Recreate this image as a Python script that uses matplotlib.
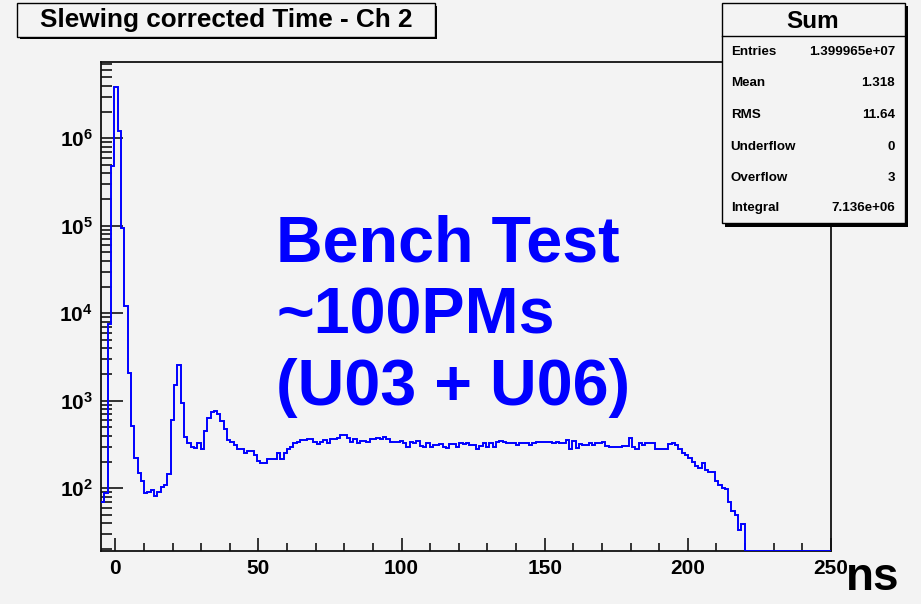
import numpy as np
import matplotlib
matplotlib.use('Agg')
import matplotlib.pyplot as plt
from matplotlib.patches import Rectangle
from matplotlib.ticker import LogLocator, MultipleLocator, NullFormatter

plt.rcParams['font.family'] = ['Liberation Sans', 'DejaVu Sans']
plt.rcParams['font.weight'] = 'bold'
plt.rcParams['mathtext.fontset'] = 'custom'
plt.rcParams['mathtext.bf'] = 'Liberation Sans:bold'
plt.rcParams['mathtext.rm'] = 'Liberation Sans:bold'

# histogram: 220 bins between -5 and 250 ns (counts)
x_lo, x_hi = -5, 250
counts = [
    70, 88, 7600, 480000, 3850000, 1200000, 95000, 12000, 2100, 516,
    220, 150, 120, 88, 90, 95, 81, 91, 103, 110,
    145, 604, 1500, 2550, 955, 385, 329, 298, 286, 329,
    281, 452, 638, 741, 774, 708, 594, 470, 360, 341,
    312, 278, 278, 254, 266, 266, 240, 204, 197, 197,
    214, 214, 214, 250, 214, 255, 279, 294, 326, 340,
    356, 356, 366, 366, 335, 318, 340, 356, 326, 362,
    362, 379, 403, 403, 372, 338, 366, 332, 350, 350,
    341, 362, 362, 372, 362, 389, 362, 338, 338, 338,
    345, 326, 300, 341, 326, 350, 304, 294, 326, 294,
    312, 312, 318, 298, 286, 318, 318, 300, 326, 318,
    326, 312, 312, 279, 304, 332, 298, 326, 294, 335,
    350, 335, 326, 326, 326, 312, 326, 326, 326, 312,
    326, 341, 341, 341, 341, 341, 326, 341, 326, 326,
    356, 279, 350, 290, 318, 312, 312, 326, 312, 326,
    326, 341, 304, 298, 298, 298, 300, 304, 304, 372,
    300, 279, 326, 312, 326, 326, 326, 279, 279, 279,
    279, 318, 330, 312, 279, 255, 240, 220, 201, 180,
    169, 193, 162, 155, 155, 120, 110, 100, 97, 70,
    55, 50, 33, 39, 0, 0, 0, 0, 0, 0,
    0, 0, 0, 0, 0, 0, 0, 0, 0, 0,
    0, 0, 0, 0, 0, 0, 0, 0, 0, 0,
]
edges = np.linspace(x_lo, x_hi, len(counts) + 1)

y_lo, y_hi = 19.2, 7.45e6
decades = [1e2, 1e3, 1e4, 1e5, 1e6]
x_major = [0, 50, 100, 150, 200, 250]

title = 'Slewing corrected Time - Ch 2'
stat_names = ['Entries', 'Mean', 'RMS', 'Underflow', 'Overflow', 'Integral']
stat_values = ['1.399965e+07', '1.318', '11.64', '0', '3', '7.136e+06']
big_lines = ['Bench Test', '~100PMs', '(U03 + U06)']

W, H = 921, 604
bg = '#f3f3f3'


def fx(px):
    return px / W


def fy(py):
    return 1 - py / H


fig = plt.figure(figsize=(W / 100, H / 100), dpi=100)
fig.patch.set_facecolor(bg)
ax = fig.add_axes([fx(101), fy(551), fx(831) - fx(101), fy(62) - fy(551)])
ax.set_facecolor(bg)

ax.stairs(np.clip(counts, y_lo, None), edges, baseline=None,
          color='#0000ff', lw=1.4, zorder=3)

ax.set_yscale('log')
ax.set_xlim(x_lo, x_hi)
ax.set_ylim(y_lo, y_hi)

ax.set_xticks(x_major)
ax.set_xticklabels([str(v) for v in x_major])
ax.xaxis.set_minor_locator(MultipleLocator(10))
ax.set_yticks(decades)
ax.set_yticklabels([r'$\mathbf{10^{%d}}$' % int(np.log10(d)) for d in decades])
ax.yaxis.set_minor_locator(LogLocator(base=10, subs=np.arange(2, 10)))
ax.yaxis.set_minor_formatter(NullFormatter())

ax.tick_params(axis='x', which='major', direction='in', length=9.5, width=1.1,
               labelsize=15, pad=6, top=False)
ax.tick_params(axis='x', which='minor', direction='in', length=5.5, width=1.1, top=False)
ax.tick_params(axis='y', which='major', direction='in', length=15.5, width=1.1,
               labelsize=15, pad=6, right=False)
ax.tick_params(axis='y', which='minor', direction='in', length=8, width=1.1, right=False)
for lab in ax.get_xticklabels() + ax.get_yticklabels():
    lab.set_fontweight('bold')
for sp in ax.spines.values():
    sp.set_linewidth(1.3)
    sp.set_color('#111111')

# title box with shadow
fig.patches.append(Rectangle((fx(19.8), fy(39.3)), fx(437.3) - fx(19.8), fy(5.8) - fy(39.3),
                             transform=fig.transFigure, facecolor='black', edgecolor='none', zorder=5))
fig.patches.append(Rectangle((fx(17.3), fy(36.7)), fx(435) - fx(17.3), fy(3.3) - fy(36.7),
                             transform=fig.transFigure, facecolor=bg, edgecolor='black', lw=1.0, zorder=6))
fig.text(fx(226), fy(20.5), title, fontsize=18.8, fontweight='bold', ha='center', va='center', zorder=7)

# statistics box
fig.patches.append(Rectangle((fx(724.5), fy(226.5)), fx(908) - fx(724.5), fy(6) - fy(226.5),
                             transform=fig.transFigure, facecolor='black', edgecolor='none', zorder=5))
fig.patches.append(Rectangle((fx(721.7), fy(222.7)), fx(905) - fx(721.7), fy(3.3) - fy(222.7),
                             transform=fig.transFigure, facecolor=bg, edgecolor='black', lw=1.0, zorder=6))
fig.add_artist(plt.Line2D([fx(721.7), fx(905)], [fy(35.7), fy(35.7)], transform=fig.transFigure,
                          color='black', lw=1.0, zorder=7))
fig.text(fx(813), fy(21), 'Sum', fontsize=17.5, fontweight='bold', ha='center', va='center', zorder=7)
row_y = [52.3, 83.3, 115, 146.7, 178.3, 208.3]
for name, val, yy in zip(stat_names, stat_values, row_y):
    fig.text(fx(730.7), fy(yy), name, fontsize=9.6, fontweight='bold', ha='left', va='center', zorder=7)
    fig.text(fx(895), fy(yy), val, fontsize=9.6, fontweight='bold', ha='right', va='center', zorder=7)

# big annotation
for line, base in zip(big_lines, [262, 333.5, 405]):
    fig.text(fx(276), fy(base), line, fontsize=46.5, fontweight='bold', color='#0000ff',
             ha='left', va='baseline', zorder=7)

fig.text(fx(846), fy(590), 'ns', fontsize=33, fontweight='bold', ha='left', va='baseline', zorder=7)

fig.savefig('out.png', dpi=100, facecolor=bg)
